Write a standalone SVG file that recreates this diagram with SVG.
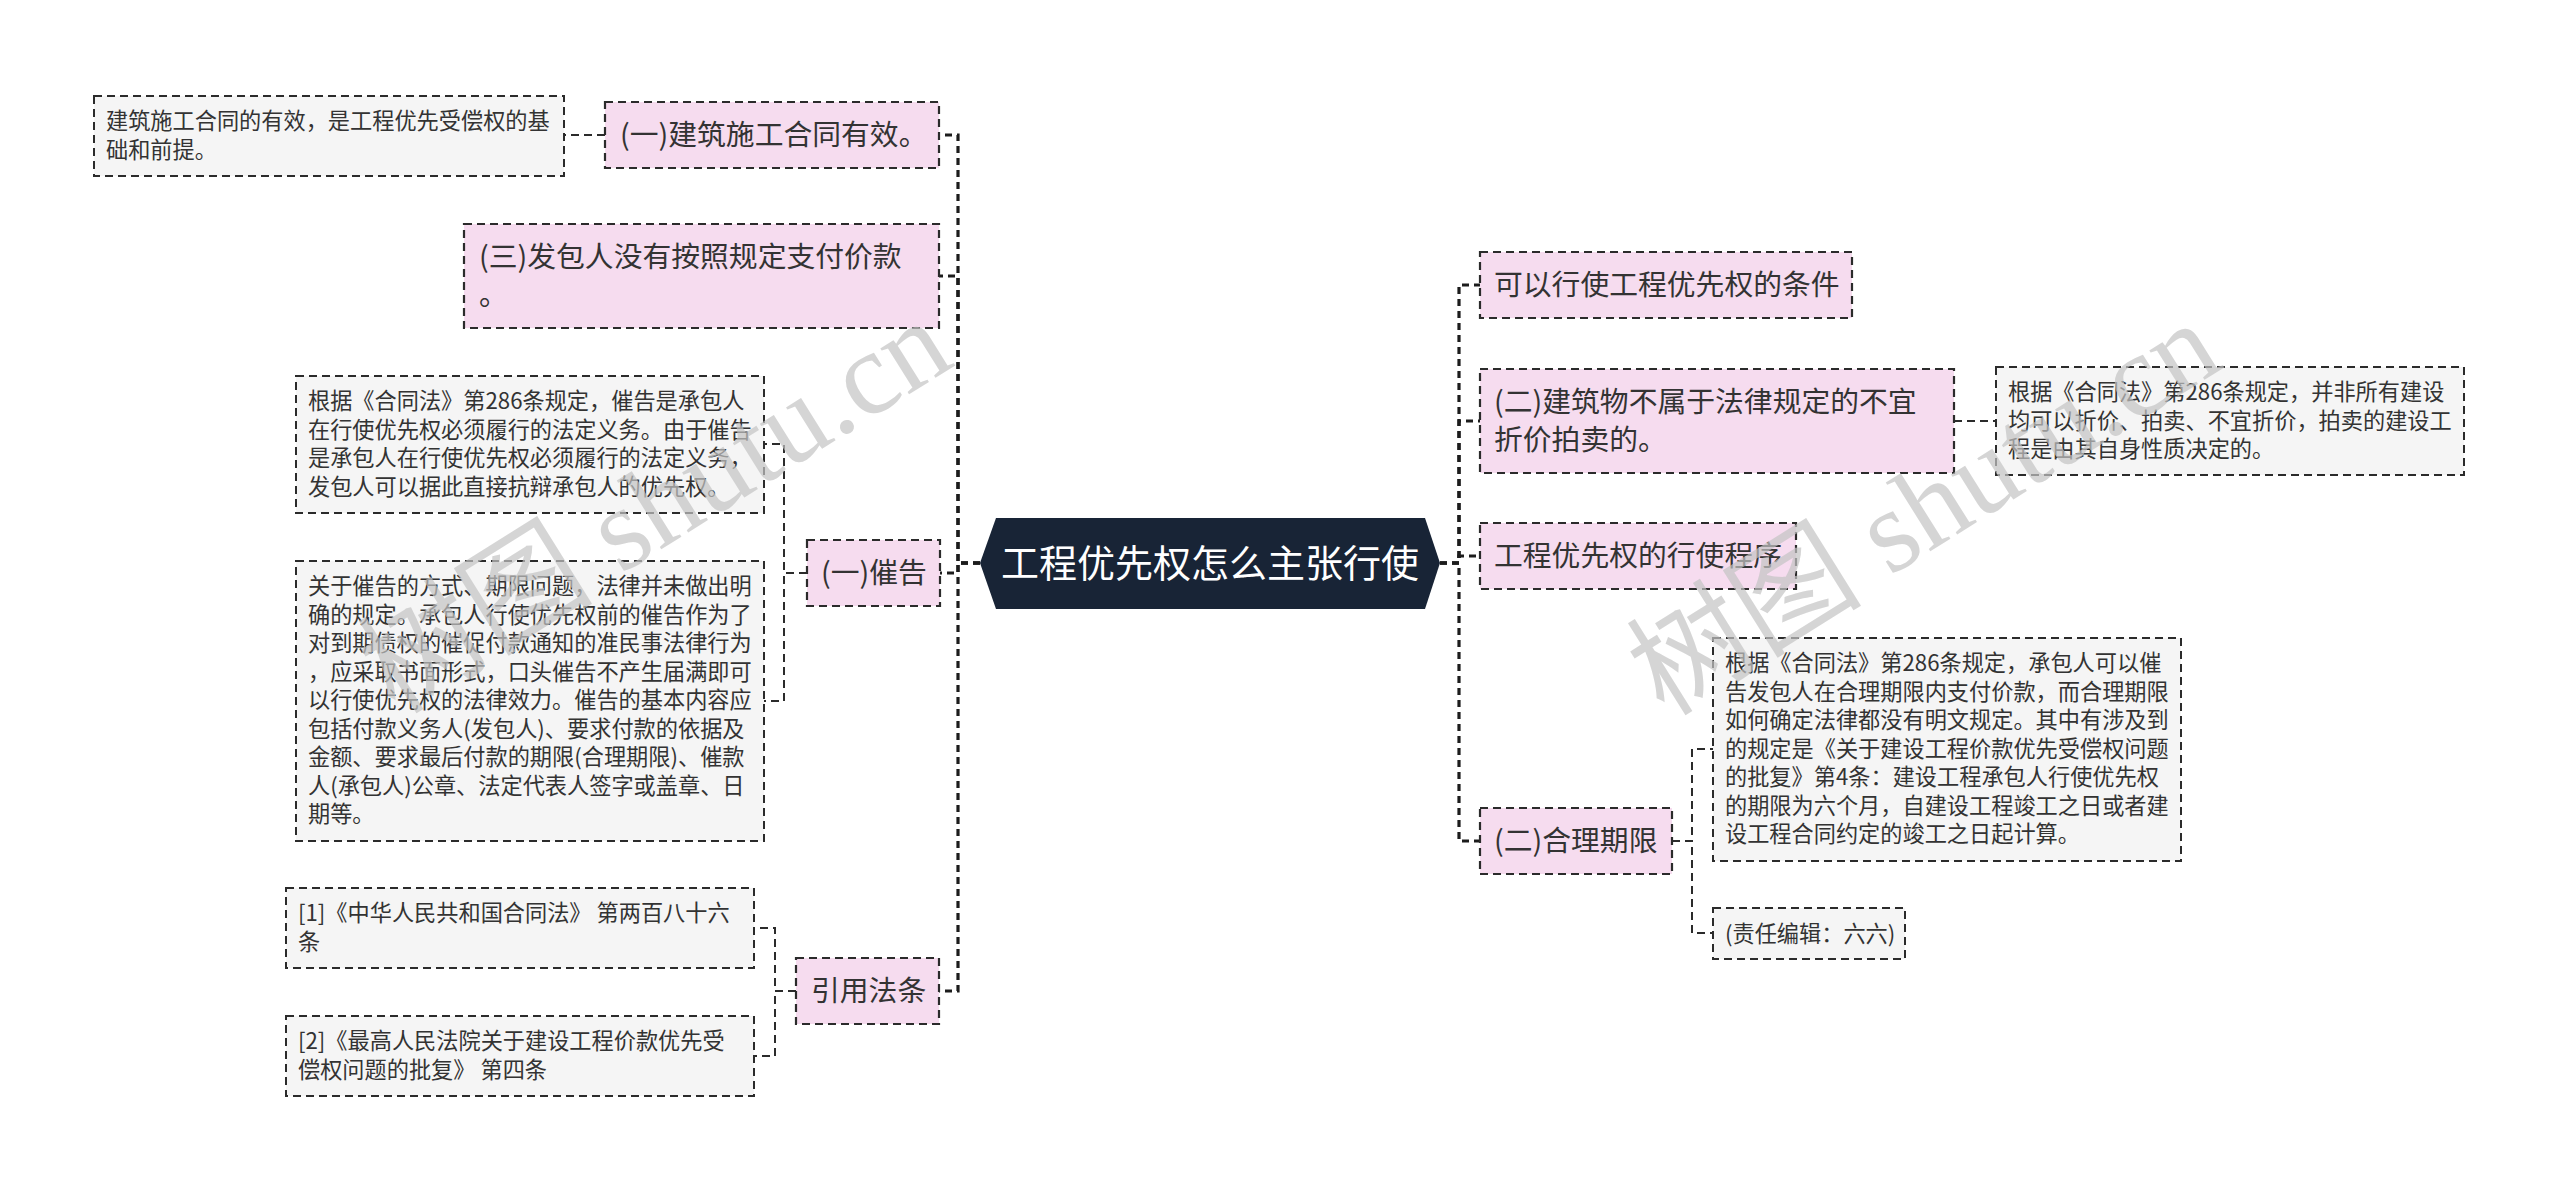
<svg xmlns="http://www.w3.org/2000/svg" width="2560" height="1191" viewBox="0 0 2560 1191">
<style>
.bg{fill:#ffffff}
.sub rect{fill:#f6dcef;stroke:#2b2b2b;stroke-width:2.2;stroke-dasharray:8 5}
.leaf rect{fill:#f5f5f5;stroke:#2b2b2b;stroke-width:2;stroke-dasharray:8 5}
.sub text{font-family:"Noto Sans CJK SC","Liberation Sans",sans-serif;font-size:28.8px;fill:#333333}
.leaf text{font-family:"Noto Sans CJK SC","Liberation Sans",sans-serif;font-size:22.2px;fill:#333333}
.root text{font-family:"Noto Sans CJK SC","Liberation Sans",sans-serif;font-size:38px;fill:#ffffff}
.main path{fill:none;stroke:#1c1c1c;stroke-width:3.2;stroke-dasharray:7 5}
.minor path{fill:none;stroke:#2b2b2b;stroke-width:2;stroke-dasharray:8 5}
.wm{font-family:"Liberation Serif","Noto Sans CJK SC",serif;font-size:118px;fill:#c4c4c4;opacity:0.7}
</style>
<rect class="bg" x="0" y="0" width="2560" height="1191"/>

<g id="connectors">
  <g class="main">
    <path d="M980 563 H958 V135 H939"/>
    <path d="M980 563 H958 V276 H939"/>
    <path d="M980 563 H958 V573 H940"/>
    <path d="M980 563 H958 V991 H939"/>
    <path d="M1440 563 H1459 V285 H1480"/>
    <path d="M1440 563 H1459 V421 H1480"/>
    <path d="M1440 563 H1459 V556 H1480"/>
    <path d="M1440 563 H1459 V841 H1480"/>
  </g>
  <g class="minor">
    <path d="M605 135 H564"/>
    <path d="M807 573 H784 V444 H764"/>
    <path d="M807 573 H784 V701 H764"/>
    <path d="M796 991 H775 V928 H754"/>
    <path d="M796 991 H775 V1056 H754"/>
    <path d="M1954 421 H1996"/>
    <path d="M1672 841 H1692 V749 H1713"/>
    <path d="M1672 841 H1692 V933 H1713"/>
  </g>
</g>

<g id="root" class="root">
  <polygon points="980,563 996,518 1425,518 1440,563 1425,609 996,609" fill="#182436"/>
  <text x="1210" y="577" text-anchor="middle">工程优先权怎么主张行使</text>
</g>

<g id="s-jianzhu" class="sub">
  <rect x="605" y="102" width="334" height="66"/>
  <text x="620" y="145">(一)建筑施工合同有效。</text>
</g>
<g id="s-fabao" class="sub">
  <rect x="464" y="224" width="475" height="104"/>
  <text x="479" y="267"><tspan x="479">(三)发包人没有按照规定支付价款</tspan><tspan x="479" dy="38">。</tspan></text>
</g>
<g id="s-cuigao" class="sub">
  <rect x="807" y="540" width="133" height="66"/>
  <text x="821" y="583">(一)催告</text>
</g>
<g id="s-yinyong" class="sub">
  <rect x="796" y="958" width="143" height="66"/>
  <text x="811" y="1001">引用法条</text>
</g>
<g id="s-tiaojian" class="sub">
  <rect x="1480" y="252" width="372" height="66"/>
  <text x="1494" y="295">可以行使工程优先权的条件</text>
</g>
<g id="s-jianzhuwu" class="sub">
  <rect x="1480" y="369" width="474" height="104"/>
  <text x="1494" y="412"><tspan x="1494">(二)建筑物不属于法律规定的不宜</tspan><tspan x="1494" dy="38">折价拍卖的。</tspan></text>
</g>
<g id="s-chengxu" class="sub">
  <rect x="1480" y="523" width="316" height="66"/>
  <text x="1494" y="566">工程优先权的行使程序</text>
</g>
<g id="s-qixian" class="sub">
  <rect x="1480" y="808" width="192" height="66"/>
  <text x="1494" y="851">(二)合理期限</text>
</g>

<g id="l-jichu" class="leaf">
  <rect x="94" y="96" width="470" height="80"/>
  <text x="106" y="129"><tspan x="106">建筑施工合同的有效，是工程优先受偿权的基</tspan><tspan x="106" dy="28.5">础和前提。</tspan></text>
</g>
<g id="l-cuigao1" class="leaf">
  <rect x="296" y="376" width="468" height="137"/>
  <text x="308" y="409"><tspan x="308">根据《合同法》第286条规定，催告是承包人</tspan><tspan x="308" dy="28.5">在行使优先权必须履行的法定义务。由于催告</tspan><tspan x="308" dy="28.5">是承包人在行使优先权必须履行的法定义务，</tspan><tspan x="308" dy="28.5">发包人可以据此直接抗辩承包人的优先权。</tspan></text>
</g>
<g id="l-cuigao2" class="leaf">
  <rect x="296" y="561" width="468" height="280"/>
  <text x="308" y="594"><tspan x="308">关于催告的方式、期限问题，法律并未做出明</tspan><tspan x="308" dy="28.5">确的规定。承包人行使优先权前的催告作为了</tspan><tspan x="308" dy="28.5">对到期债权的催促付款通知的准民事法律行为</tspan><tspan x="308" dy="28.5">，应采取书面形式，口头催告不产生届满即可</tspan><tspan x="308" dy="28.5">以行使优先权的法律效力。催告的基本内容应</tspan><tspan x="308" dy="28.5">包括付款义务人(发包人)、要求付款的依据及</tspan><tspan x="308" dy="28.5">金额、要求最后付款的期限(合理期限)、催款</tspan><tspan x="308" dy="28.5">人(承包人)公章、法定代表人签字或盖章、日</tspan><tspan x="308" dy="28.5">期等。</tspan></text>
</g>
<g id="l-fatiao1" class="leaf">
  <rect x="286" y="888" width="468" height="80"/>
  <text x="298" y="921"><tspan x="298">[1]《中华人民共和国合同法》 第两百八十六</tspan><tspan x="298" dy="28.5">条</tspan></text>
</g>
<g id="l-fatiao2" class="leaf">
  <rect x="286" y="1016" width="468" height="80"/>
  <text x="298" y="1049"><tspan x="298">[2]《最高人民法院关于建设工程价款优先受</tspan><tspan x="298" dy="28.5">偿权问题的批复》 第四条</tspan></text>
</g>
<g id="l-zhejia" class="leaf">
  <rect x="1996" y="367" width="468" height="108"/>
  <text x="2008" y="400"><tspan x="2008">根据《合同法》第286条规定，并非所有建设</tspan><tspan x="2008" dy="28.5">均可以折价、拍卖、不宜折价，拍卖的建设工</tspan><tspan x="2008" dy="28.5">程是由其自身性质决定的。</tspan></text>
</g>
<g id="l-qixian1" class="leaf">
  <rect x="1713" y="638" width="468" height="223"/>
  <text x="1725" y="671"><tspan x="1725">根据《合同法》第286条规定，承包人可以催</tspan><tspan x="1725" dy="28.5">告发包人在合理期限内支付价款，而合理期限</tspan><tspan x="1725" dy="28.5">如何确定法律都没有明文规定。其中有涉及到</tspan><tspan x="1725" dy="28.5">的规定是《关于建设工程价款优先受偿权问题</tspan><tspan x="1725" dy="28.5">的批复》第4条：建设工程承包人行使优先权</tspan><tspan x="1725" dy="28.5">的期限为六个月，自建设工程竣工之日或者建</tspan><tspan x="1725" dy="28.5">设工程合同约定的竣工之日起计算。</tspan></text>
</g>
<g id="l-bianji" class="leaf">
  <rect x="1713" y="908" width="192" height="51"/>
  <text x="1725" y="942">(责任编辑：六六)</text>
</g>

<g id="watermarks">
  <text class="wm" x="676" y="540" text-anchor="middle" transform="rotate(-32 676 540)">树图 shutu.cn</text>
  <text class="wm" x="1945" y="542" text-anchor="middle" transform="rotate(-32 1945 542)">树图 shutu.cn</text>
</g>
</svg>
